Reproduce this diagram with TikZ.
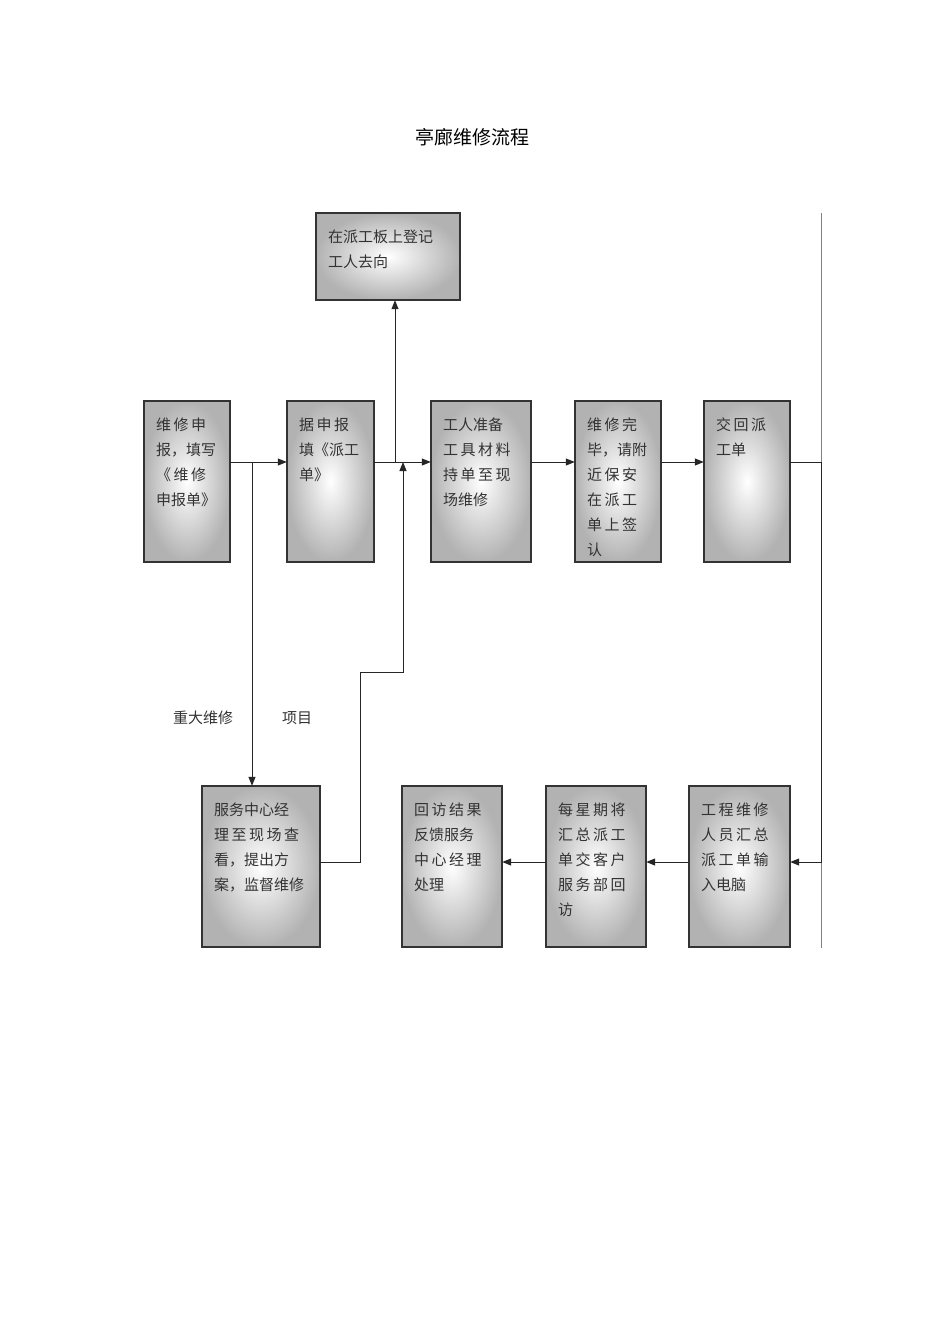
\documentclass[tikz,border=0pt]{standalone}
\usepackage{fontspec}
\newfontfamily\cjk{Noto Sans CJK SC}
\usetikzlibrary{arrows.meta}
\begin{document}
\begin{tikzpicture}[x=1pt,y=-1pt,
  box/.style={draw=black!80,line width=1.3pt,shading=radial,inner color=white,outer color=black!30},
  txt/.style={anchor=north west,align=left,inner sep=0pt,font=\cjk\fontsize{15}{25}\selectfont,text=black!80},
  ln/.style={draw=black!85,line width=1pt},
  arr/.style={ln,-{Triangle[length=9pt,width=7pt]}}]
\useasboundingbox[fill=white] (0,0) rectangle (950,1344);
\node[font=\cjk\fontsize{19}{22}\selectfont] (title) at (472,137) {亭廊维修流程};
% boxes
\def\bx#1#2#3#4#5#6{\path[box] (#2,#3) rectangle (#4,#5);
  \node[inner sep=0pt] (#1) at ({(#2+#4)/2},{(#3+#5)/2}) [minimum width={#4-#2},minimum height={#5-#3}] {};
  \node[txt] (#1t) at (#2+12,#3+17) {#6};}
\bx{top}{316}{213}{460}{300}{在派工板上登记\\工人去向}
\bx{b1}{144}{401}{230}{562}{维\,修\,申\\报，填写\\《\,维\,修\\申报单》}
\bx{b2}{287}{401}{374}{562}{据\,申\,报\\填《派工\\单》}
\bx{b3}{431}{401}{531}{562}{工人准备\\工\,具\,材\,料\\持\,单\,至\,现\\场维修}
\bx{b4}{575}{401}{661}{562}{维\,修\,完\\毕，请附\\近\,保\,安\\在\,派\,工\\单\,上\,签\\认}
\bx{b5}{704}{401}{790}{562}{交\,回\,派\\工单}
\bx{c1}{202}{786}{320}{947}{服务中心经\\理\,至\,现\,场\,查\\看，提出方\\案，监督维修}
\bx{c2}{402}{786}{502}{947}{回\,访\,结\,果\\反馈服务\\中\,心\,经\,理\\处理}
\bx{c3}{546}{786}{646}{947}{每\,星\,期\,将\\汇\,总\,派\,工\\单\,交\,客\,户\\服\,务\,部\,回\\访}
\bx{c4}{689}{786}{790}{947}{工\,程\,维\,修\\人\,员\,汇\,总\\派\,工\,单\,输\\入电脑}
% side line
\coordinate (s1) at (821,213); \coordinate (s2) at (821,948);
\draw[draw=black!50,line width=0.8pt] (s1) -- (s2);
% connectors
\draw[arr] (b1.east |- 0,462) -- (b2.west |- 0,462);
\coordinate (j1) at (252,462);
\draw[arr] (j1) -- (c1.north -| j1);
\draw[arr] (b2.east |- 0,462) -- (b3.west |- 0,462);
\coordinate (j2) at (395,462);
\draw[arr] (j2) -- (top.south -| j2);
\coordinate (k1) at (360,862); \coordinate (k2) at (360,672); \coordinate (k3) at (403,672); \coordinate (k4) at (403,462);
\draw[arr] (c1.east |- k1) -- (k1) -- (k2) -- (k3) -- (k4);
\draw[arr] (b3.east |- 0,462) -- (b4.west |- 0,462);
\draw[arr] (b4.east |- 0,462) -- (b5.west |- 0,462);
\coordinate (r1) at (821,462); \coordinate (r2) at (821,862);
\draw[arr] (b5.east |- r1) -- (r1) -- (r2) -- (c4.east |- r2);
\draw[arr] (c4.west |- 0,862) -- (c3.east |- 0,862);
\draw[arr] (c3.west |- 0,862) -- (c2.east |- 0,862);
\node[font=\cjk\fontsize{15}{18}\selectfont,text=black!80] (l1) at (203,718) {重大维修};
\node[font=\cjk\fontsize{15}{18}\selectfont,text=black!80] (l2) at (297,718) {项目};
\end{tikzpicture}
\end{document}
